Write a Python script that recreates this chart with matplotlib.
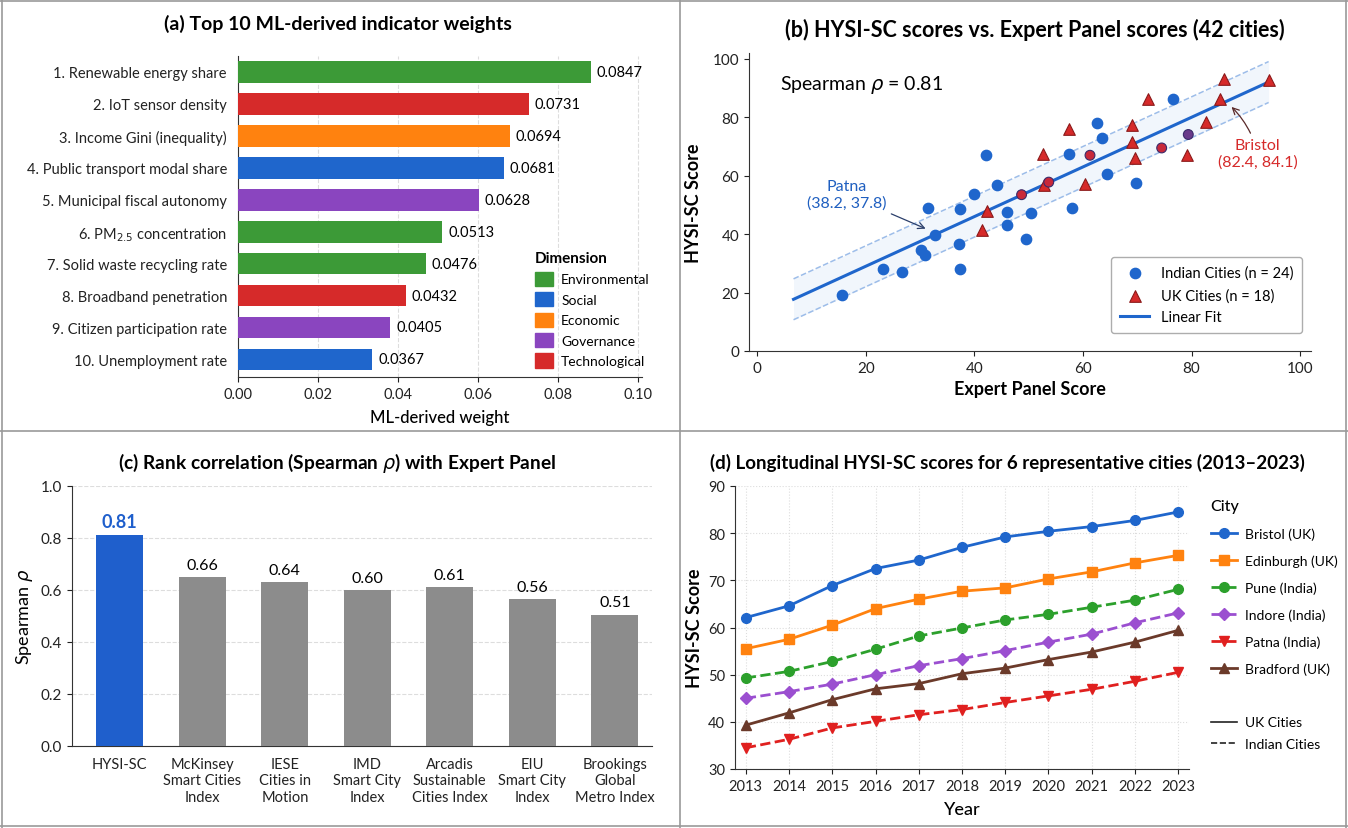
import matplotlib
matplotlib.use("Agg")
import matplotlib.pyplot as plt
from matplotlib.lines import Line2D
from matplotlib.patches import Patch
import numpy as np

plt.rcParams['font.family'] = ['Lato', 'DejaVu Sans']
plt.rcParams['axes.edgecolor'] = '#333333'
plt.rcParams['xtick.color'] = '#222222'
plt.rcParams['ytick.color'] = '#222222'

# ---- (a) indicator weights ----
indicators = ["1. Renewable energy share", "2. IoT sensor density", "3. Income Gini (inequality)",
              "4. Public transport modal share", "5. Municipal fiscal autonomy",
              "6. PM$_{2.5}$ concentration", "7. Solid waste recycling rate",
              "8. Broadband penetration", "9. Citizen participation rate", "10. Unemployment rate"]
bar_len = [0.0882, 0.0727, 0.0679, 0.0664, 0.0602, 0.0511, 0.0469, 0.0419, 0.0381, 0.0336]
weight_labels = ["0.0847", "0.0731", "0.0694", "0.0681", "0.0628", "0.0513", "0.0476", "0.0432", "0.0405", "0.0367"]
dims = ["Environmental", "Technological", "Economic", "Social", "Governance",
        "Environmental", "Environmental", "Technological", "Governance", "Social"]
dim_order = ["Environmental", "Social", "Economic", "Governance", "Technological"]
dim_colors = {"Environmental": "#3c9a37", "Social": "#1f66cc", "Economic": "#ff820f",
              "Governance": "#8a45bf", "Technological": "#d62a2a"}

# ---- (b) scatter ----
india_x = [15.6, 23.1, 26.6, 30.2, 31.0, 31.5, 32.8, 37.3, 37.1, 37.3, 40.0, 42.1, 44.2, 46.1,
           46.1, 50.5, 49.6, 57.4, 57.9, 62.5, 63.6, 64.4, 69.7, 76.5]
india_y = [19.1, 28.1, 26.9, 34.5, 32.9, 48.9, 39.6, 48.6, 36.7, 27.9, 53.6, 67.0, 56.8, 47.7,
           43.1, 47.1, 38.3, 67.4, 48.8, 78.0, 73.0, 60.5, 57.4, 86.3]
uk_x = [41.4, 42.3, 52.7, 52.9, 57.5, 60.3, 69.1, 69.0, 69.6, 71.9, 79.1, 82.7, 85.2, 86.0, 94.2]
uk_y = [41.3, 47.8, 67.3, 56.9, 76.1, 57.0, 77.3, 71.5, 66.2, 86.3, 67.2, 78.3, 86.3, 93.1, 92.7]
# overlapping points drawn as red circles
mix_x = [48.7, 53.7, 61.3, 74.5, 79.4]
mix_y = [53.5, 57.8, 67.0, 69.5, 74.1]
mix_colors = ["#c8283a", "#c8283a", "#c8283a", "#c8283a", "#6a3a8a"]
fit_slope, fit_intercept = 0.85, 12.0
fit_range = (6.7, 94.2)
band_half = 7.0

# ---- (c) rank correlation ----
indices = ["HYSI-SC", "McKinsey\nSmart Cities\nIndex", "IESE\nCities in\nMotion", "IMD\nSmart City\nIndex",
           "Arcadis\nSustainable\nCities Index", "EIU\nSmart City\nIndex", "Brookings\nGlobal\nMetro Index"]
rho = [0.81, 0.65, 0.63, 0.60, 0.61, 0.565, 0.505]
rho_labels = ["0.81", "0.66", "0.64", "0.60", "0.61", "0.56", "0.51"]

# ---- (d) longitudinal ----
years = list(range(2013, 2024))
cities = ["Bristol (UK)", "Edinburgh (UK)", "Pune (India)", "Indore (India)", "Patna (India)", "Bradford (UK)"]
scores = {
    "Bristol (UK)": [62.1, 64.6, 68.9, 72.5, 74.3, 77.0, 79.2, 80.4, 81.4, 82.7, 84.5],
    "Edinburgh (UK)": [55.5, 57.5, 60.5, 64.0, 66.0, 67.7, 68.4, 70.3, 71.8, 73.7, 75.3],
    "Pune (India)": [49.3, 50.7, 52.8, 55.4, 58.2, 59.9, 61.6, 62.8, 64.3, 65.8, 68.1],
    "Indore (India)": [45.0, 46.4, 48.0, 50.0, 51.9, 53.4, 55.1, 56.9, 58.6, 61.0, 63.1],
    "Patna (India)": [34.5, 36.3, 38.7, 40.1, 41.5, 42.6, 44.1, 45.5, 46.9, 48.6, 50.5],
    "Bradford (UK)": [39.3, 41.9, 44.7, 47.0, 48.1, 50.2, 51.4, 53.2, 54.8, 56.9, 59.4],
}
city_colors = ["#1f66cc", "#ff820f", "#2ca02c", "#9b4fd0", "#e0201f", "#6b3a2a"]
city_markers = ["o", "s", "o", "D", "v", "^"]
city_styles = ["-", "-", "--", "--", "--", "-"]

W, H = 1348, 829
fig = plt.figure(figsize=(W / 100, H / 100), dpi=100)


def px_axes(l, t, r, b):
    return fig.add_axes([l / W, 1 - b / H, (r - l) / W, (b - t) / H])


def clean(ax):
    ax.spines['top'].set_visible(False)
    ax.spines['right'].set_visible(False)


def panel_title(xc, yc, s, size):
    fig.text(xc / W, 1 - yc / H, s, ha='center', va='center', fontsize=size, fontweight='bold')


# panel frame lines
for (x0, y0, x1, y1) in [(680, 0, 680, H), (0, 432, W, 432), (2, 0, 2, H), (W - 2, 0, W - 2, H),
                         (0, 2, W, 2), (0, H - 2, W, H - 2)]:
    fig.add_artist(Line2D([x0 / W, x1 / W], [1 - y0 / H, 1 - y1 / H], color='#9a9a9a', lw=1.2))

# ================= (a) =================
ax = px_axes(238, 57, 642, 378)
clean(ax)
ypos = np.arange(len(indicators))
ax.barh(ypos, bar_len, height=0.68, color=[dim_colors[d] for d in dims], zorder=3)
for y, v, lab in zip(ypos, bar_len, weight_labels):
    ax.text(v + 0.0015, y, lab, va='center', ha='left', fontsize=10.5)
ax.set_yticks(ypos)
ax.set_yticklabels(indicators, fontsize=10.5)
ax.set_ylim(9.55, -0.5)
ax.set_xlim(0, 0.101)
ax.set_xticks([0, 0.02, 0.04, 0.06, 0.08, 0.10])
ax.set_xticklabels(["0.00", "0.02", "0.04", "0.06", "0.08", "0.10"], fontsize=10.5)
ax.tick_params(axis='y', length=0, pad=8)
ax.grid(axis='x', linestyle='--', color='#dddddd', lw=0.8, zorder=0)
ax.set_xlabel("ML-derived weight", fontsize=12, fontweight='medium', labelpad=6)
panel_title(338, 24, "(a) Top 10 ML-derived indicator weights", 14)
handles = [Patch(color=dim_colors[d], label=d) for d in dim_order]
leg = ax.legend(handles=handles, title="Dimension", loc='lower right', bbox_to_anchor=(1.05, -0.01),
                frameon=False, fontsize=10, title_fontproperties={'weight': 'bold', 'size': 11},
                handlelength=1.3, handleheight=1.2, labelspacing=0.45, handletextpad=0.6)
leg._legend_box.align = "left"

# ================= (b) =================
ax = px_axes(749, 54, 1311, 352)
clean(ax)
xf = np.array(fit_range)
yf = fit_intercept + fit_slope * xf
ax.fill_between(xf, yf - band_half, yf + band_half, color='#1f66cc', alpha=0.06, lw=0, zorder=1)
ax.plot(xf, yf + band_half, '--', color='#9dbde9', lw=1.1, zorder=2)
ax.plot(xf, yf - band_half, '--', color='#9dbde9', lw=1.1, zorder=2)
ax.plot(xf, yf, '-', color='#1f66cc', lw=2.2, zorder=3, label="Linear Fit")
ax.scatter(india_x, india_y, s=55, color='#1f66cc', zorder=4, label="Indian Cities (n = 24)")
ax.scatter(uk_x, uk_y, s=70, marker='^', color='#d62a2a', edgecolor='#8b1a1a', lw=0.8,
           zorder=5, label="UK Cities (n = 18)")
ax.scatter(mix_x, mix_y, s=50, color=mix_colors, edgecolor='#3a2a6a', lw=0.8, zorder=5)
ax.set_xlim(-1.5, 102)
ax.set_ylim(0, 102)
ax.set_xticks([0, 20, 40, 60, 80, 100])
ax.set_yticks([0, 20, 40, 60, 80, 100])
ax.tick_params(labelsize=11)
ax.set_xlabel("Expert Panel Score", fontsize=13, fontweight='bold', labelpad=4)
ax.set_ylabel("HYSI-SC Score", fontsize=13, fontweight='bold', labelpad=8)
panel_title(1035, 30, "(b) HYSI-SC scores vs. Expert Panel scores (42 cities)", 15.5)
ax.text(4.2, 91.5, r"Spearman $\rho$ = 0.81", fontsize=14, va='center', ha='left')
ax.annotate("Patna\n(38.2, 37.8)", xy=(31.5, 41.5), xytext=(16.5, 53.5), color='#1f5fc0',
            fontsize=11.5, ha='center', va='center',
            arrowprops=dict(arrowstyle='->', color='#2b3f6b', lw=0.9))
ax.annotate("Bristol\n(82.4, 84.1)", xy=(87.0, 84.2), xytext=(92.2, 67.5), color='#d62a2a',
            fontsize=11.5, ha='center', va='center',
            arrowprops=dict(arrowstyle='->', color='#5a2a2a', lw=0.9,
                            connectionstyle='arc3,rad=0.15'))
h, l = ax.get_legend_handles_labels()
order = [1, 2, 0]
ax.legend([h[i] for i in order], [l[i] for i in order], loc='lower right',
          bbox_to_anchor=(0.984, 0.06), borderaxespad=0, fontsize=10.5, frameon=True,
          edgecolor='#999999', fancybox=True, borderpad=0.6, labelspacing=0.55)

# ================= (c) =================
ax = px_axes(72, 487, 652, 747)
clean(ax)
xpos = np.arange(len(indices))
bar_cols = ['#1f5fcc'] + ['#8c8c8c'] * (len(indices) - 1)
ax.bar(xpos, rho, width=0.57, color=bar_cols, zorder=3)
for i, (v, lab) in enumerate(zip(rho, rho_labels)):
    if i == 0:
        ax.text(i, v + 0.02, lab, ha='center', va='bottom', fontsize=13, fontweight='bold', color='#1f5fcc')
    else:
        ax.text(i, v + 0.02, lab, ha='center', va='bottom', fontsize=11.5)
ax.set_xticks(xpos)
ax.set_xticklabels(indices, fontsize=10.5)
ax.tick_params(axis='x', length=0, pad=8)
ax.set_xlim(-0.58, 6.45)
ax.set_ylim(0, 1.0)
ax.set_yticks([0, 0.2, 0.4, 0.6, 0.8, 1.0])
ax.set_yticklabels(["0.0", "0.2", "0.4", "0.6", "0.8", "1.0"], fontsize=11)
ax.grid(axis='y', linestyle='--', color='#dddddd', lw=0.8, zorder=0)
ax.set_ylabel(r"Spearman $\rho$", fontsize=13, labelpad=4)
panel_title(337, 463, r"(c) Rank correlation (Spearman $\rho$) with Expert Panel", 13.8)

# ================= (d) =================
ax = px_axes(735, 487, 1189, 770)
clean(ax)
lines = []
for c, col, m, ls in zip(cities, city_colors, city_markers, city_styles):
    ln, = ax.plot(years, scores[c], linestyle=ls, marker=m, color=col, lw=2, ms=7 if m != 'D' else 6,
                  label=c, zorder=3)
    lines.append(ln)
ax.set_xlim(2012.75, 2023.25)
ax.set_ylim(30, 90)
ax.set_xticks(years)
ax.tick_params(labelsize=10.5)
ax.grid(True, linestyle=':', color='#dddddd', lw=0.8, zorder=0)
ax.set_xlabel("Year", fontsize=13, fontweight='medium', labelpad=6)
ax.set_ylabel("HYSI-SC Score", fontsize=13, fontweight='bold', labelpad=4)
panel_title(1007, 463, "(d) Longitudinal HYSI-SC scores for 6 representative cities (2013\u20132023)", 13.5)
leg1 = ax.legend(handles=lines, title="City", loc='upper left', bbox_to_anchor=(1.02, 1.0),
                 frameon=False, fontsize=10, title_fontproperties={'weight': 'medium', 'size': 11.5},
                 labelspacing=1.05, handlelength=1.9, handletextpad=0.6)
leg1._legend_box.align = "left"
ax.add_artist(leg1)
style_handles = [Line2D([], [], color='#222222', lw=1.2, ls='-', label="UK Cities"),
                 Line2D([], [], color='#222222', lw=1.2, ls='--', label="Indian Cities")]
ax.legend(handles=style_handles, loc='upper left', bbox_to_anchor=(1.02, 0.23), frameon=False,
          fontsize=10, handlelength=1.9, handletextpad=0.6, labelspacing=0.7)

fig.savefig("out.png", dpi=100)
